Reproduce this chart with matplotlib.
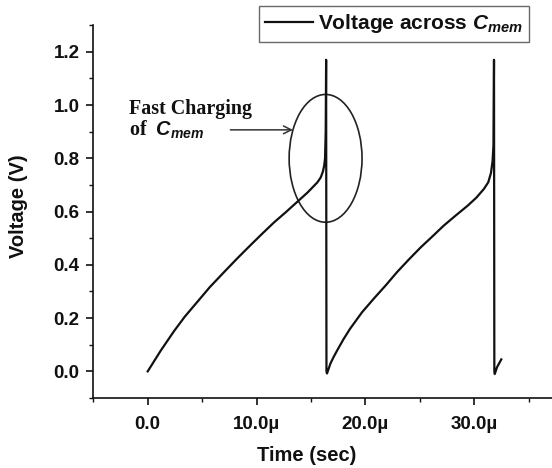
import matplotlib
matplotlib.use("Agg")
import matplotlib.pyplot as plt
from matplotlib.patches import Ellipse
from matplotlib.ticker import MultipleLocator, FixedLocator, FixedFormatter

# ---- data (time in microseconds, voltage in volts) ----
time_us = [0.0, 1.2, 2.4, 3.4, 4.5, 5.7, 7.0, 8.2, 9.4, 10.5, 11.6, 12.7, 13.7, 14.7,
           15.6, 15.9, 16.1, 16.22, 16.3, 16.36, 16.40,
           16.43, 16.48, 16.8, 17.1, 17.5, 18.0, 18.6, 19.7, 20.8, 21.9, 22.9, 24.0,
           25.1, 26.2, 27.2, 28.3, 29.4, 30.2, 30.9, 31.3, 31.55, 31.7, 31.78, 31.83,
           31.86, 31.90, 32.1, 32.5]
voltage = [0.0, 0.078, 0.150, 0.205, 0.258, 0.316, 0.372, 0.423, 0.472, 0.516, 0.559,
           0.598, 0.635, 0.672, 0.710, 0.728, 0.750, 0.772, 0.80, 0.90, 1.17,
           0.0, -0.008, 0.030, 0.055, 0.085, 0.121, 0.160, 0.222, 0.274, 0.324, 0.372,
           0.420, 0.466, 0.508, 0.547, 0.585, 0.622, 0.652, 0.685, 0.710, 0.745, 0.790,
           0.85, 1.17, 0.0, -0.01, 0.015, 0.045]

x_ticks = [0, 10, 20, 30]
x_tick_labels = ["0.0", "10.0\u00b5", "20.0\u00b5", "30.0\u00b5"]
y_ticks = [0.0, 0.2, 0.4, 0.6, 0.8, 1.0, 1.2]
y_tick_labels = ["0.0", "0.2", "0.4", "0.6", "0.8", "1.0", "1.2"]

plt.rcParams['font.family'] = ['Liberation Sans', 'DejaVu Sans']
plt.rcParams['font.weight'] = 'bold'
plt.rcParams['mathtext.fontset'] = 'custom'
plt.rcParams['mathtext.it'] = 'Liberation Sans:italic:bold'
plt.rcParams['mathtext.rm'] = 'Liberation Sans:bold'

W, H = 552, 468
fig = plt.figure(figsize=(W / 100, H / 100), dpi=100)
ax_left, ax_bottom = 93.3, 398.0
ax_w, ax_h = 489.6, 372.8
ax = fig.add_axes([ax_left / W, 1 - ax_bottom / H, ax_w / W, ax_h / H])

ink = '#111111'
ax.plot(time_us, voltage, color=ink, lw=1.6, solid_joinstyle='round',
        label=r'Voltage across $C_{mem}$')

ax.set_xlim(-5, 40)
ax.set_ylim(-0.1, 1.3)

for s in ['top', 'right']:
    ax.spines[s].set_visible(False)
for s in ['left', 'bottom']:
    ax.spines[s].set_linewidth(1.2)
    ax.spines[s].set_color(ink)

ax.xaxis.set_major_locator(FixedLocator(x_ticks))
ax.xaxis.set_major_formatter(FixedFormatter(x_tick_labels))
ax.xaxis.set_minor_locator(MultipleLocator(5))
ax.yaxis.set_major_locator(FixedLocator(y_ticks))
ax.yaxis.set_major_formatter(FixedFormatter(y_tick_labels))
ax.yaxis.set_minor_locator(MultipleLocator(0.1))

ax.tick_params(which='major', length=5, width=1.2, color=ink, labelsize=13.5,
               labelcolor=ink)
ax.tick_params(which='minor', length=3, width=1.0, color=ink)
ax.tick_params(axis='x', which='major', pad=8)
ax.tick_params(axis='y', which='major', pad=5)

ax.set_xlabel('Time (sec)', fontsize=14.5, fontweight='bold', color=ink)
ax.set_ylabel('Voltage (V)', fontsize=14.5, fontweight='bold', color=ink)
ax.xaxis.set_label_coords((306.5 - ax_left) / ax_w, (ax_bottom - 446.0) / ax_h)
ax.yaxis.set_label_coords((28.0 - ax_left) / ax_w, (ax_bottom - 206.0) / ax_h)

# ellipse highlighting fast charging
ax.add_patch(Ellipse((16.35, 0.80), 6.7, 0.48, fill=False, edgecolor='#222222', lw=1.2))

# annotation text and arrow
ax.text(-1.75, 0.966, 'Fast Charging', family=['Liberation Serif'], fontweight='bold',
        fontsize=14.4, color=ink, ha='left', va='baseline')
ax.text(-1.75, 0.885, r'of  $C_{mem}$', family=['Liberation Serif'], fontweight='bold',
        fontsize=14.4, color=ink, ha='left', va='baseline')
ax.annotate('', xy=(13.35, 0.907), xytext=(7.6, 0.907),
            arrowprops=dict(arrowstyle='->', color='#333333', lw=1.1,
                            shrinkA=0, shrinkB=0, mutation_scale=14))

leg = ax.legend(loc='upper right', bbox_to_anchor=(529.3 / W, 1 - 6 / H),
                bbox_transform=fig.transFigure, fontsize=15, frameon=True,
                fancybox=False, handlelength=2.3, handletextpad=0.25,
                borderpad=0.3, borderaxespad=0)
leg.get_frame().set_edgecolor('#444444')
leg.get_frame().set_linewidth(1.0)
for t in leg.get_texts():
    t.set_color(ink)

fig.savefig('out.png', dpi=100)
